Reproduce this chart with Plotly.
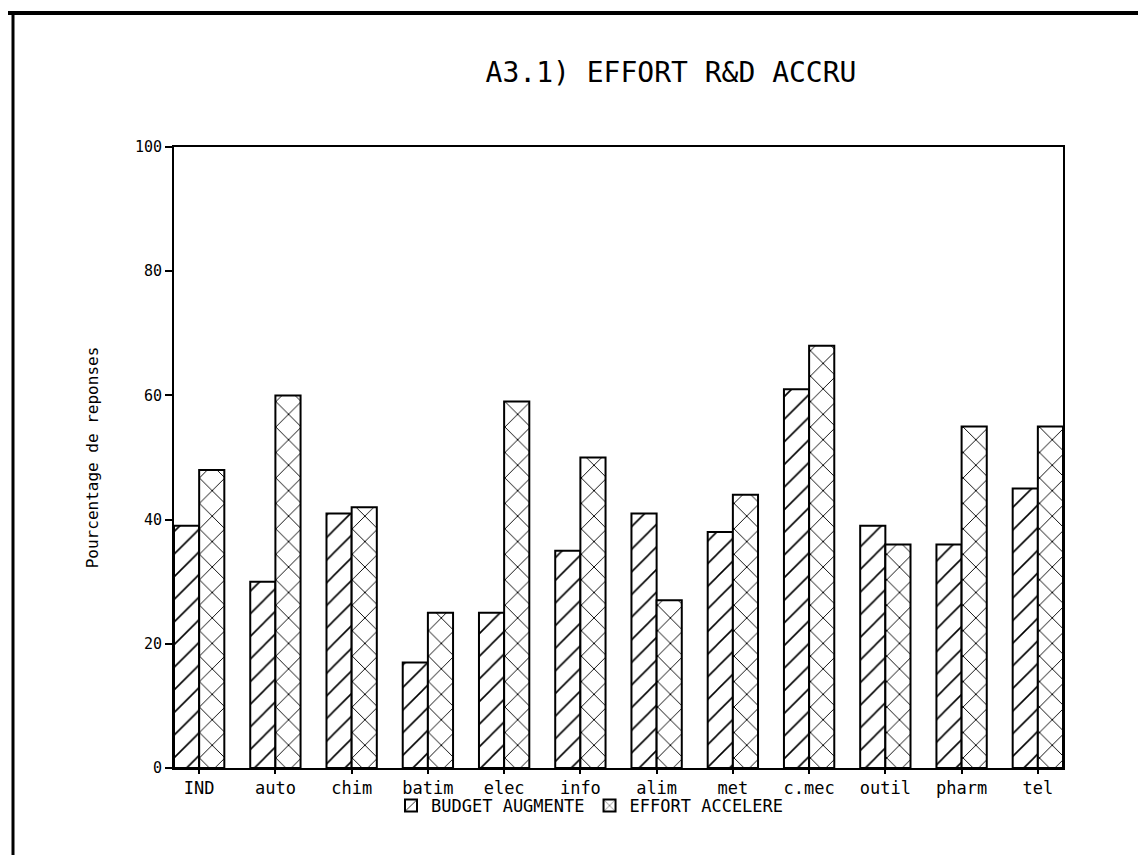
import plotly.graph_objects as go

categories = ["IND", "auto", "chim", "batim", "elec", "info", "alim", "met", "c.mec", "outil", "pharm", "tel"]
budget_augmente = [39, 30, 41, 17, 25, 35, 41, 38, 61, 39, 36, 45]
effort_accelere = [48, 60, 42, 25, 59, 50, 27, 44, 68, 36, 55, 55]
y_ticks = [0, 20, 40, 60, 80, 100]

OFF = 8  # page body margin
W, H = 1146 - 2 * OFF, 863 - 2 * OFF
# plot area in screen pixels
SL, SR, ST, SB = 174, 1063, 147, 768
L, R, T, B = SL - OFF, SR - OFF, ST - OFF, SB - OFF


def px(x):  # screen x -> paper
    return (x - OFF - L) / (R - L)


def py(y):  # screen y -> paper
    return (B - (y - OFF)) / (B - T)


mono = "DejaVu Sans Mono, Liberation Mono, monospace"

fig = go.Figure()
fig.add_trace(go.Bar(
    x=categories, y=budget_augmente, name="BUDGET AUGMENTE",
    marker=dict(color="white", line=dict(color="black", width=2),
                pattern=dict(shape="/", fgcolor="black", bgcolor="white", fgopacity=1,
                             size=16, solidity=0.1)),
))
fig.add_trace(go.Bar(
    x=categories, y=effort_accelere, name="EFFORT ACCELERE",
    marker=dict(color="white", line=dict(color="black", width=2),
                pattern=dict(shape="x", fgcolor="black", bgcolor="white", fgopacity=1,
                             size=18, solidity=0.1)),
))

fig.update_layout(
    width=W, height=H,
    margin=dict(l=L, r=W - R, t=T, b=H - B),
    paper_bgcolor="white", plot_bgcolor="white",
    barmode="group", bargap=0.34, bargroupgap=0,
    showlegend=True,
    legend=dict(orientation="h", x=px(590), xanchor="center", y=py(806), yanchor="middle",
                font=dict(family=mono, size=17, color="black"),
                itemwidth=30, tracegroupgap=0, bgcolor="rgba(0,0,0,0)"),
    title=dict(text="A3.1) EFFORT R&amp;D ACCRU", x=(671 - OFF) / W, xanchor="center",
               y=1 - (72 - OFF) / H, yanchor="middle",
               font=dict(family=mono, size=28, color="black")),
    font=dict(family=mono, color="black"),
)
fig.update_xaxes(
    range=[-0.33, 11.33], showline=True, linecolor="black", linewidth=2, mirror=True,
    ticks="outside", ticklen=4, tickcolor="black", tickwidth=1.5,
    tickfont=dict(size=17, family=mono), showgrid=False, ticklabelstandoff=0,
)
fig.update_yaxes(
    range=[0, 100], tickvals=y_ticks, showline=True, linecolor="black", linewidth=2, mirror=True,
    ticks="outside", ticklen=7, tickcolor="black", tickwidth=1.5,
    tickfont=dict(size=15, family=mono), showgrid=False, zeroline=False,
    title=dict(text="Pourcentage de reponses", font=dict(size=16, family=mono), standoff=32),
)

# outer frame lines (top and left)
fig.add_shape(type="line", xref="paper", yref="paper", x0=px(5), x1=px(1146), y0=py(13), y1=py(13),
              line=dict(color="black", width=4))
fig.add_shape(type="line", xref="paper", yref="paper", x0=px(13), x1=px(13), y0=py(13), y1=py(863),
              line=dict(color="black", width=3))

fig.write_html("out.html")
